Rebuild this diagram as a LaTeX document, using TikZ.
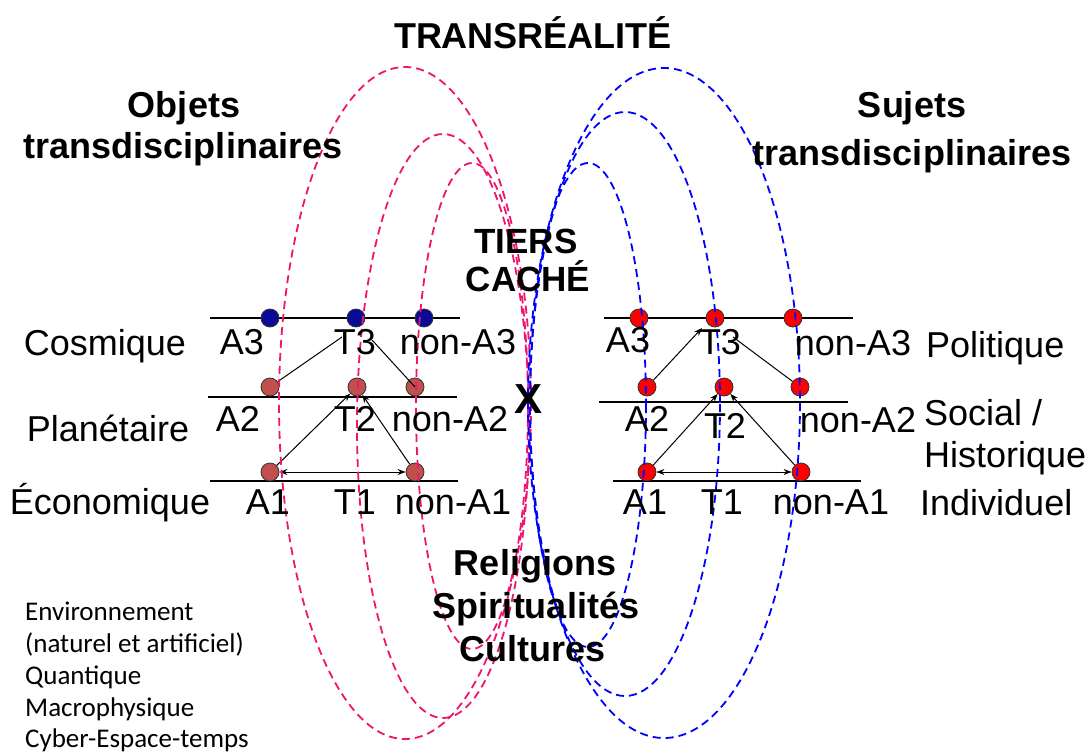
\documentclass[tikz,border=0pt]{standalone}
\usepackage{fontspec}
\setmainfont{Liberation Sans}
\newfontfamily\carlito{Carlito}
\usetikzlibrary{arrows.meta}
\definecolor{pinkc}{RGB}{240,20,110}
\definecolor{bluec}{RGB}{0,0,255}
\definecolor{navyc}{RGB}{10,10,150}
\definecolor{brownc}{RGB}{192,80,77}
\definecolor{redc}{RGB}{255,0,0}
\begin{document}
\begin{tikzpicture}[x=1pt,y=-1pt,
  pinkdash/.style={draw=pinkc,line width=1.8pt,dash pattern=on 8pt off 5pt},
  bluedash/.style={draw=bluec,line width=1.8pt,dash pattern=on 8pt off 5pt},
  level/.style={draw=black,line width=1.5pt},
  dotnode/.style={circle,draw=black!80,line width=0.8pt,minimum size=18pt,inner sep=0pt},
  ndot/.style={dotnode,fill=navyc},
  bdot/.style={dotnode,fill=brownc},
  rdot/.style={dotnode,fill=redc},
  lab/.style={font=\fontsize{36}{40}\selectfont,anchor=base,inner sep=0pt},
  labw/.style={font=\fontsize{36}{40}\selectfont,anchor=base west,inner sep=0pt},
  head/.style={font=\bfseries\fontsize{36}{40}\selectfont,anchor=base,inner sep=0pt},
  arr/.style={line width=1pt,-{Stealth[length=8pt,width=6pt]}},
  darr/.style={line width=1pt,{Stealth[length=8pt,width=6pt]}-{Stealth[length=8pt,width=6pt]}},
  thinln/.style={line width=1pt},
  listtext/.style={font=\carlito\fontsize{27}{30}\selectfont,anchor=base west,inner sep=0pt}
]
\useasboundingbox[fill=white] (0,0) rectangle (1088,753);

% level lines
\draw[level] (210,318) -- (460,318);
\draw[level] (208,397) -- (457,397);
\draw[level] (210,481) -- (458,481);
\draw[level] (604,318) -- (853,318);
\draw[level] (599,402) -- (848,402);
\draw[level] (613,481) -- (861,481);

% left dots
\node[ndot] (lA3d) at (270,318) {};
\node[ndot] (lT3d) at (356,318) {};
\node[ndot] (lnA3d) at (424,318) {};
\node[bdot] (lA2d) at (270,387) {};
\node[bdot] (lT2d) at (357,387) {};
\node[bdot] (lnA2d) at (415,387) {};
\node[bdot] (lA1d) at (270,472) {};
\node[bdot] (lnA1d) at (415,472) {};

% right dots
\node[rdot] (rA3d) at (639,318) {};
\node[rdot] (rT3d) at (715,318) {};
\node[rdot] (rnA3d) at (793,318) {};
\node[rdot] (rA2d) at (647,387) {};
\node[rdot] (rT2d) at (724,387) {};
\node[rdot] (rnA2d) at (800,387) {};
\node[rdot] (rA1d) at (647,472) {};
\node[rdot] (rnA1d) at (801,472) {};

% connectors
\coordinate (lT3in) at (342,337);
\coordinate (lT3out) at (372,340);
\draw[thinln] (lA2d) -- (lT3in);
\draw[thinln] (lT3out) -- (lnA2d.center);
\draw[darr] (lA1d) -- (lnA1d);
\draw[arr] (lA1d) -- (lT2d);
\draw[arr] (lnA1d) -- (lT2d);

\coordinate (rT3in) at (702,328);
\coordinate (rT3out) at (733,337);
\draw[arr] (rA2d) -- (rT3in);
\draw[thinln] (rT3out) -- (rnA2d);
\draw[darr] (rA1d) -- (rnA1d);
\draw[arr] (rA1d) -- (rT2d);
\draw[arr] (rnA1d) -- (rT2d);

% ellipses
\draw[pinkdash] (405,403) ellipse [x radius=126, y radius=336];
\draw[pinkdash] (443,426) ellipse [x radius=86, y radius=292];
\draw[pinkdash] (472,406) ellipse [x radius=56, y radius=243];
\draw[bluedash] (664,403) ellipse [x radius=136, y radius=335];
\draw[bluedash] (625,404) ellipse [x radius=95, y radius=292];
\draw[bluedash] (588,405) ellipse [x radius=58, y radius=242];

% headings
\node[head] (title) at (533,48) {TRANSRÉALITÉ};
\node[head] (obj1) at (184,117) {Objets};
\node[head] (obj2) at (183,158) {transdisciplinaires};
\node[head] (suj1) at (912,117) {Sujets};
\node[head] (suj2) at (912,165) {transdisciplinaires};
\node[head,font=\bfseries\fontsize{35}{38}\selectfont] (tiers) at (526,253) {TIERS};
\node[head,font=\bfseries\fontsize{35}{38}\selectfont] (cache) at (528,291) {CACHÉ};
\node[head,font=\bfseries\fontsize{42}{46}\selectfont] (xmark) at (529,413) {X};
\node[head] (rel) at (535,575) {Religions};
\node[head] (spi) at (536,618) {Spiritualités};
\node[head] (cul) at (533,661) {Cultures};

% left labels
\node[lab] (lA3) at (242,354) {A3};
\node[lab] (lT3) at (355,354) {T3};
\node[lab] (lnA3) at (458,354) {non-A3};
\node[lab] (lA2) at (238,431) {A2};
\node[lab] (lT2) at (355,431) {T2};
\node[lab] (lnA2) at (450,431) {non-A2};
\node[lab] (lA1) at (268,514) {A1};
\node[lab] (lT1) at (355,514) {T1};
\node[lab] (lnA1) at (453,514) {non-A1};

% right labels
\node[lab] (rA3) at (628,352) {A3};
\node[lab] (rT3) at (720,354) {T3};
\node[lab] (rnA3) at (853,355) {non-A3};
\node[lab] (rA2) at (647,431) {A2};
\node[lab] (rT2) at (725,438) {T2};
\node[lab] (rnA2) at (858,432) {non-A2};
\node[lab] (rA1) at (645,514) {A1};
\node[lab] (rT1) at (722,514) {T1};
\node[lab] (rnA1) at (831,514) {non-A1};

% side labels
\node[lab] (cosm) at (105,355) {Cosmique};
\node[lab] (plan) at (108,441) {Planétaire};
\node[lab] (econ) at (110,514) {Économique};
\node[labw] (poli) at (926,357) {Politique};
\node[labw] (soci) at (924,425) {Social /};
\node[labw] (hist) at (924,467) {Historique};
\node[labw] (indi) at (920,515) {Individuel};

% bottom-left list
\node[listtext] (l1) at (25,620) {Environnement};
\node[listtext] (l2) at (25,652) {(naturel et artificiel)};
\node[listtext] (l3) at (25,684) {Quantique};
\node[listtext] (l4) at (25,716) {Macrophysique};
\node[listtext] (l5) at (25,747) {Cyber-Espace-temps};
\end{tikzpicture}
\end{document}
